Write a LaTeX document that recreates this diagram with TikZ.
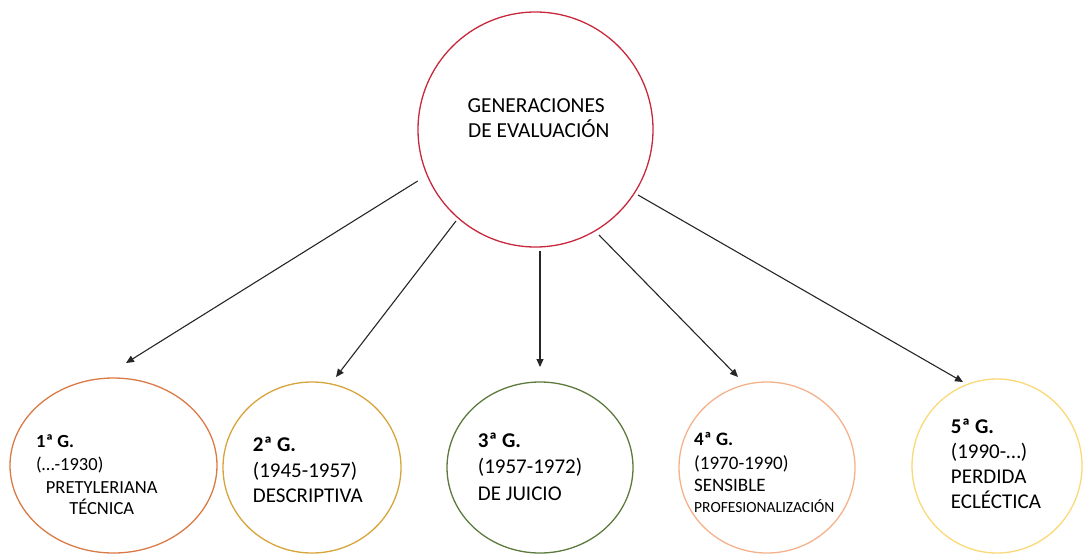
\documentclass[tikz,border=0pt]{standalone}
\usepackage{fontspec}
\setmainfont{Carlito}
\usetikzlibrary{shapes.geometric,arrows.meta}
\definecolor{cmain}{HTML}{C8283C}
\definecolor{cone}{HTML}{DA7A45}
\definecolor{ctwo}{HTML}{D6A43A}
\definecolor{cthree}{HTML}{5B7A3B}
\definecolor{cfour}{HTML}{F5B28A}
\definecolor{cfive}{HTML}{FBD878}
\tikzset{
  gen/.style={ellipse, draw, line width=1.3pt, inner sep=0pt},
  lbl/.style={anchor=base west, inner sep=0pt, text=black},
  clbl/.style={anchor=base, inner sep=0pt, text=black},
  conn/.style={line width=1.1pt, draw=black!85, -{Triangle[length=8pt,width=7pt]}},
}
\newcommand{\fs}[1]{\fontsize{#1}{#1}\selectfont}
\begin{document}
\begin{tikzpicture}[x=1pt,y=-1pt]
\useasboundingbox (0,0) rectangle (1083,554);
% main circle
\node[circle, draw=cmain, line width=1.3pt, minimum size=235pt, inner sep=0pt] (main) at (535.5,129.5) {};
\node[lbl] (mt1) at (467.5,112.7) {\fs{21.4}GENERACIONES};
\node[lbl] (mt2) at (468,137.3) {\fs{21.4}DE EVALUACIÓN};
% generations
\node[gen, draw=cone,   minimum width=207pt, minimum height=175pt] (g1) at (113.5,465.5) {};
\node[gen, draw=ctwo,   minimum width=178pt, minimum height=171pt] (g2) at (312,467.5) {};
\node[gen, draw=cthree, minimum width=186pt, minimum height=171pt] (g3) at (540,467.5) {};
\node[gen, draw=cfour,  minimum width=176pt, minimum height=171pt] (g4) at (767,467.5) {};
\node[gen, draw=cfive,  minimum width=170pt, minimum height=174pt] (g5) at (997,466) {};
% texts 1
\node[lbl] (t1a) at (36,447) {\fs{18.5}\bfseries 1ª G.};
\node[lbl] (t1b) at (36,470) {\fs{18.5}(…-1930)};
\node[clbl] (t1c) at (101.7,493) {\fs{18.5}PRETYLERIANA};
\node[clbl] (t1d) at (101.7,514) {\fs{18.5}TÉCNICA};
% texts 2
\node[lbl] (t2a) at (252.7,451) {\fs{21}\bfseries 2ª G.};
\node[lbl] (t2b) at (252.7,477) {\fs{21}(1945-1957)};
\node[lbl] (t2c) at (252.7,502) {\fs{21}DESCRIPTIVA};
% texts 3
\node[lbl] (t3a) at (477.7,447) {\fs{21}\bfseries 3ª G.};
\node[lbl] (t3b) at (477.7,473) {\fs{21}(1957-1972)};
\node[lbl] (t3c) at (477.7,500) {\fs{21}DE JUICIO};
% texts 4
\node[lbl] (t4a) at (694,445) {\fs{19}\bfseries 4ª G.};
\node[lbl] (t4b) at (694,469) {\fs{19}(1970-1990)};
\node[lbl] (t4c) at (694,491) {\fs{19}SENSIBLE};
\node[lbl] (t4d) at (694,512) {\fs{15.5}PROFESIONALIZACIÓN};
% texts 5
\node[lbl] (t5a) at (950.7,433) {\fs{21}\bfseries 5ª G.};
\node[lbl] (t5b) at (950.7,458) {\fs{21}(1990-…)};
\node[lbl] (t5c) at (950.7,483) {\fs{21}PERDIDA};
\node[lbl] (t5d) at (950.7,508) {\fs{21}ECLÉCTICA};
% connector ends
\coordinate (s1) at (417.7,181);
\coordinate (e1) at (126,363);
\coordinate (s2) at (456,221);
\coordinate (e2) at (336,377);
\coordinate (s3) at (540,251);
\coordinate (e3) at (540,367);
\coordinate (s4) at (599,235);
\coordinate (e4) at (738,377);
\coordinate (s5) at (638,195);
\coordinate (e5) at (963,382);
\draw[conn] (s1) -- (e1);
\draw[conn] (s2) -- (e2);
\draw[conn] (s3) -- (e3);
\draw[conn] (s4) -- (e4);
\draw[conn] (s5) -- (e5);
\end{tikzpicture}
\end{document}
